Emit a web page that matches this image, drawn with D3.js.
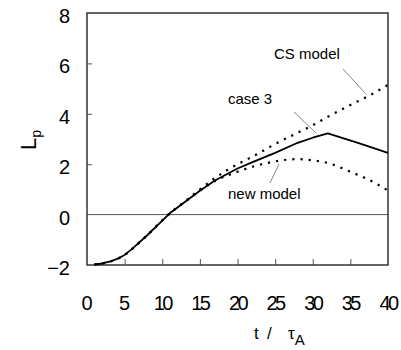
<!DOCTYPE html>
<html><head><meta charset="utf-8">
<script src="https://cdn.jsdelivr.net/npm/d3@7"></script>
<style>html,body{margin:0;padding:0;background:#fff;} svg{display:block;}</style>
</head><body>
<svg id="c" width="401" height="350"></svg>
<script>
const xTicks = [0,5,10,15,20,25,30,35,40];
const yTicks = [-2,0,2,4,6,8];
const tCase3 = [1,2,3,4,5,6,8,11,13,15,17,20,22,25,28,30,32,36,40];
const case3  = [-1.98,-1.94,-1.87,-1.76,-1.6,-1.36,-0.82,0.05,0.5,0.95,1.35,1.83,2.08,2.45,2.85,3.05,3.22,2.85,2.45];
const tCS = [1,2,3,4,5,6,8,11,13,15,17,20,22,25,28,30,32,35,38,40];
const csModel = [-1.98,-1.94,-1.87,-1.76,-1.6,-1.36,-0.82,0.05,0.52,1.0,1.45,2.0,2.3,2.8,3.25,3.55,3.88,4.35,4.8,5.15];
const tNew = [1,2,3,4,5,6,8,11,13,15,17,20,22,24,26,28,30,32,35,38,40];
const newModel = [-1.98,-1.94,-1.87,-1.76,-1.6,-1.36,-0.82,0.05,0.5,0.95,1.33,1.7,1.9,2.05,2.16,2.2,2.15,2.05,1.7,1.3,0.95];

const svg = d3.select('#c');
const x = d3.scaleLinear().domain([0,40]).range([87,388]);
const y = d3.scaleLinear().domain([-2,8]).range([265,13]);
const font = "'Liberation Sans', Arial, sans-serif";

svg.append('line').attr('x1',x(0)).attr('x2',x(40)).attr('y1',y(0)).attr('y2',y(0))
  .attr('stroke','#555').attr('stroke-width',1);

const ax = d3.axisBottom(x).tickValues(xTicks.slice(1,-1)).tickSize(-6).tickFormat('');
svg.append('g').attr('transform',`translate(0,${y(-2)})`).call(ax)
  .call(g=>{g.select('.domain').remove(); g.selectAll('line').attr('stroke','#555');});
const ay = d3.axisLeft(y).tickValues([2,4,6]).tickSize(-5).tickFormat('');
svg.append('g').attr('transform',`translate(${x(0)},0)`).call(ay)
  .call(g=>{g.select('.domain').remove(); g.selectAll('line').attr('stroke','#555');});

svg.append('rect').attr('x',x(0)).attr('y',y(8)).attr('width',x(40)-x(0)).attr('height',y(-2)-y(8))
  .attr('fill','none').attr('stroke','#333').attr('stroke-width',1.5);

svg.append('g').selectAll('text').data(yTicks).join('text')
  .attr('x',70).attr('y',d=>y(d)+10).attr('text-anchor','end')
  .attr('font-family',font).attr('font-size',20).attr('fill','#000')
  .text(d=>d<0?'\u2212'+Math.abs(d):d);
svg.append('g').selectAll('text').data(xTicks).join('text')
  .attr('x',d=>x(d)).attr('y',310).attr('text-anchor','middle')
  .attr('font-family',font).attr('font-size',20).attr('letter-spacing',d=>d>=10?-2.5:0).attr('fill','#000')
  .text(d=>d);

const lineM = (ts,vs)=>d3.line().x((d,i)=>x(ts[i])).y(d=>y(d)).curve(d3.curveMonotoneX)(vs);
const lineL = (ts,vs)=>d3.line().x((d,i)=>x(ts[i])).y(d=>y(d))(vs);
svg.append('path').attr('d',lineM(tCS,csModel)).attr('fill','none').attr('stroke','#000')
  .attr('stroke-width',2.2).attr('stroke-dasharray','2.2 6');
svg.append('path').attr('d',lineM(tNew,newModel)).attr('fill','none').attr('stroke','#000')
  .attr('stroke-width',2.2).attr('stroke-dasharray','2.2 6');
svg.append('path').attr('d',lineL(tCase3,case3)).attr('fill','none').attr('stroke','#000')
  .attr('stroke-width',1.8).attr('stroke-linejoin','round');

const ann = [
  {text:'CS model', tx:274, ty:59, x1:343, y1:69, x2:366, y2:94},
  {text:'case 3', tx:228, ty:104, x1:294, y1:112, x2:316, y2:133},
  {text:'new model', tx:228, ty:199, x1:279, y1:164, x2:270, y2:183}
];
ann.forEach(a=>{
  svg.append('text').attr('x',a.tx).attr('y',a.ty).attr('font-family',font).attr('font-size',15)
    .attr('fill','#000').text(a.text);
  svg.append('line').attr('x1',a.x1).attr('y1',a.y1).attr('x2',a.x2).attr('y2',a.y2)
    .attr('stroke','#777').attr('stroke-width',0.9);
});

const yt = svg.append('text').attr('transform','translate(36,150) rotate(-90)')
  .attr('font-family',font).attr('font-size',22).attr('fill','#000');
yt.append('tspan').text('L');
yt.append('tspan').attr('font-size',14).attr('dy',5).text('p');

const xt = svg.append('text').attr('x',254).attr('y',339)
  .attr('font-family',font).attr('font-size',17).attr('fill','#000');
xt.append('tspan').text('t');
xt.append('tspan').attr('x',267).text('/');
xt.append('tspan').attr('x',288).text('\u03C4');
xt.append('tspan').attr('font-size',15).attr('dy',6).text('A');
</script>
</body></html>
